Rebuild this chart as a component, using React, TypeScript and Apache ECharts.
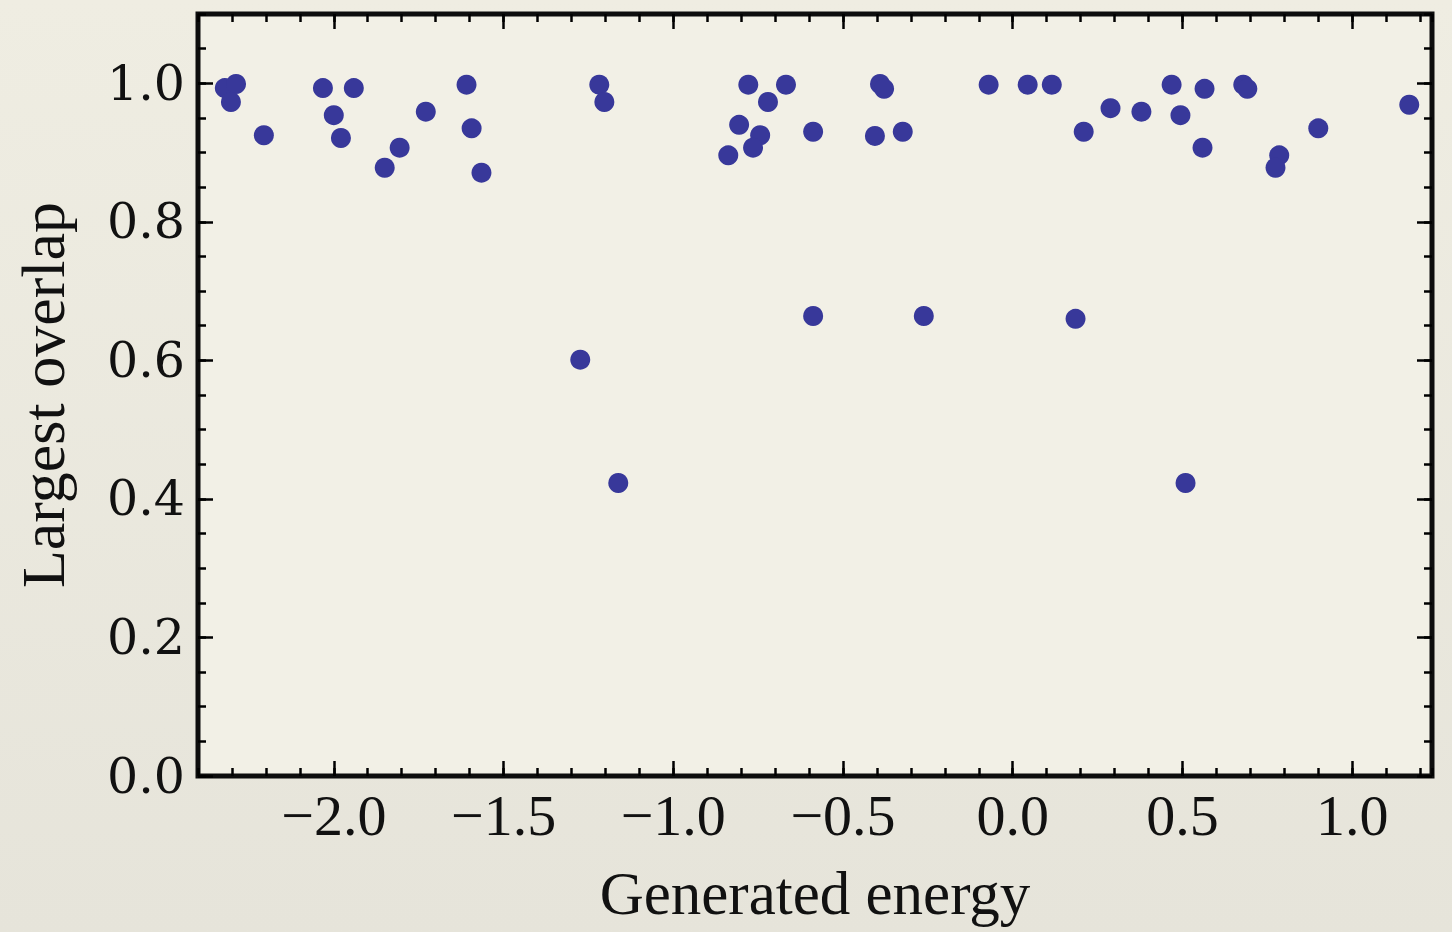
import { useEffect, useRef } from "react";
import * as echarts from "echarts";

// Generated energy (x) and largest overlap (y) of each sample
const energies = [
  -2.321, -2.288, -2.303, -2.206, -2.032, -1.941, -2.0, -1.979, -1.806, -1.85,
  -1.729, -1.609, -1.594, -1.565, -1.218, -1.203, -1.274, -1.162, -0.779, -0.668,
  -0.721, -0.806, -0.744, -0.765, -0.838, -0.588, -0.588, -0.391, -0.379, -0.406,
  -0.324, -0.262, -0.071, 0.044, 0.115, 0.209, 0.288, 0.379, 0.468, 0.494,
  0.565, 0.559, 0.679, 0.691, 0.785, 0.774, 0.9, 1.168, 0.185, 0.509,
];
const overlaps = [
  0.993, 0.999, 0.973, 0.925, 0.993, 0.993, 0.954, 0.921, 0.907, 0.878,
  0.959, 0.998, 0.935, 0.871, 0.998, 0.973, 0.601, 0.423, 0.998, 0.998,
  0.973, 0.94, 0.925, 0.907, 0.896, 0.93, 0.664, 0.999, 0.992, 0.924,
  0.93, 0.664, 0.998, 0.998, 0.998, 0.93, 0.964, 0.959, 0.998, 0.954,
  0.992, 0.907, 0.998, 0.992, 0.896, 0.878, 0.935, 0.969, 0.66, 0.423,
];

const xMajorTicks = [-2.0, -1.5, -1.0, -0.5, 0.0, 0.5, 1.0];
const yMajorTicks = [0.0, 0.2, 0.4, 0.6, 0.8, 1.0];

const X_MIN = -2.4;
const X_MAX = 1.235;
const Y_MIN = 0;
const Y_MAX = 1.1;

const fmt = (v: number) => (v < 0 ? "\u2212" + Math.abs(v).toFixed(1) : v.toFixed(1));

export default function App() {
  const ref = useRef<HTMLDivElement>(null);

  useEffect(() => {
    if (!ref.current) return;
    const chart = echarts.init(ref.current, null, { renderer: "svg" });
    const points = energies.map((e, i) => [e, overlaps[i]]);

    const tickStyle = { color: "#000", width: 2.5 };
    const xCommon = {
      type: "value" as const,
      min: X_MIN,
      max: X_MAX,
      splitLine: { show: false },
      axisLine: { show: false, onZero: false },
    };
    const yCommon = {
      type: "value" as const,
      min: Y_MIN,
      max: Y_MAX,
      splitLine: { show: false },
      axisLine: { show: false, onZero: false },
    };

    chart.setOption({
      animation: false,
      backgroundColor: {
        type: "linear",
        x: 0,
        y: 0,
        x2: 0,
        y2: 1,
        colorStops: [
          { offset: 0, color: "#efede2" },
          { offset: 1, color: "#e6e4da" },
        ],
      },
      grid: {
        left: 198,
        right: 20,
        top: 14,
        bottom: 156,
        outerBoundsMode: "none",
        containLabel: false,
        show: true,
        backgroundColor: "#f2f0e6",
        borderColor: "#0d0d0d",
        borderWidth: 5,
      },
      xAxis: [
        {
          ...xCommon,
          position: "bottom",
          interval: 0.1,
          axisTick: { inside: true, length: 8, lineStyle: tickStyle },
          axisLabel: { show: false },
          name: "Generated energy",
          nameLocation: "middle",
          nameGap: 87,
          nameTextStyle: { fontFamily: "Liberation Serif", fontSize: 61, color: "#111" },
        },
        {
          ...xCommon,
          position: "bottom",
          axisTick: { inside: true, length: 15, lineStyle: tickStyle, customValues: xMajorTicks },
          axisLabel: {
            customValues: xMajorTicks,
            formatter: fmt,
            margin: 10,
            fontFamily: "Liberation Serif",
            fontSize: 58,
            color: "#111",
          },
        },
        {
          ...xCommon,
          position: "top",
          interval: 0.1,
          axisTick: { inside: true, length: 8, lineStyle: tickStyle },
          axisLabel: { show: false },
        },
        {
          ...xCommon,
          position: "top",
          axisTick: { inside: true, length: 15, lineStyle: tickStyle, customValues: xMajorTicks },
          axisLabel: { show: false },
        },
      ],
      yAxis: [
        {
          ...yCommon,
          position: "left",
          interval: 0.05,
          axisTick: { inside: true, length: 8, lineStyle: tickStyle },
          axisLabel: { show: false },
          name: "Largest overlap",
          nameLocation: "middle",
          nameGap: 124,
          nameTextStyle: { fontFamily: "Liberation Serif", fontSize: 62, color: "#111" },
        },
        {
          ...yCommon,
          position: "left",
          axisTick: { inside: true, length: 15, lineStyle: tickStyle, customValues: yMajorTicks },
          axisLabel: {
            customValues: yMajorTicks,
            formatter: fmt,
            margin: 13,
            fontFamily: "DejaVu Serif",
            fontSize: 49,
            color: "#111",
          },
        },
        {
          ...yCommon,
          position: "right",
          interval: 0.05,
          axisTick: { inside: true, length: 8, lineStyle: tickStyle },
          axisLabel: { show: false },
        },
        {
          ...yCommon,
          position: "right",
          axisTick: { inside: true, length: 15, lineStyle: tickStyle, customValues: yMajorTicks },
          axisLabel: { show: false },
        },
      ],
      series: [
        {
          type: "scatter",
          xAxisIndex: 0,
          yAxisIndex: 0,
          data: points,
          symbol: "circle",
          symbolSize: 20,
          itemStyle: { color: "#38389a", opacity: 1 },
        },
      ],
    });

    return () => chart.dispose();
  }, []);

  return (
    <div
      ref={ref}
      style={{ position: "fixed", left: 0, top: 0, width: 1452, height: 932 }}
    />
  );
}
